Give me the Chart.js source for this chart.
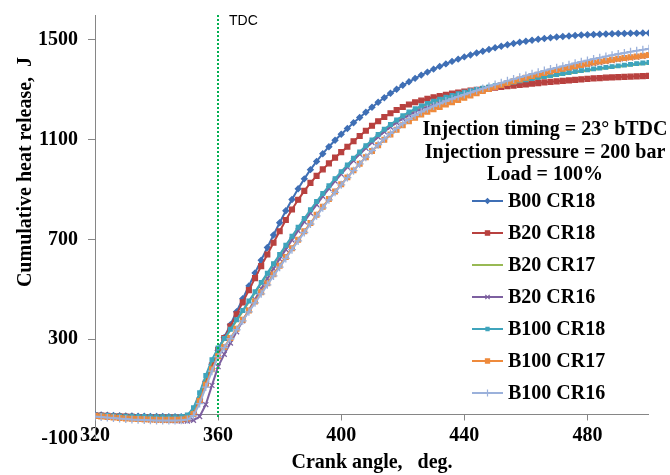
<!DOCTYPE html>
<html>
<head>
<meta charset="utf-8">
<script src="https://cdn.jsdelivr.net/npm/chart.js@4.4.1/dist/chart.umd.min.js"></script>
<style>
    body { margin: 0; background: #fff; }
</style>
</head>
<body>
<canvas id="hrchart" width="670" height="475"></canvas>
<script>
// crank angle, deg (every 2 deg)
const crankAngles = [
    320, 322, 324, 326, 328, 330, 332, 334, 336, 338, 340, 342, 344, 346, 348, 350, 352, 354, 356, 358,
    360, 362, 364, 366, 368, 370, 372, 374, 376, 378, 380, 382, 384, 386, 388, 390, 392, 394, 396, 398,
    400, 402, 404, 406, 408, 410, 412, 414, 416, 418, 420, 422, 424, 426, 428, 430, 432, 434, 436, 438,
    440, 442, 444, 446, 448, 450, 452, 454, 456, 458, 460, 462, 464, 466, 468, 470, 472, 474, 476, 478,
    480, 482, 484, 486, 488, 490, 492, 494, 496, 498, 500
];

// cumulative heat release, J
const b00Cr18 = [
    -3, -4, -5, -6, -7, -8, -8, -9, -9, -10, -10, -10, -11, -11, -11, -10, 8, 60, 130, 200,
    255, 307, 358, 410, 462, 514, 566, 617, 668, 718, 767, 815, 860, 903, 943, 980, 1013, 1044, 1072, 1098,
    1122, 1145, 1168, 1189, 1210, 1230, 1250, 1268, 1286, 1302, 1318, 1332, 1346, 1359, 1371, 1383, 1394, 1404, 1414, 1423,
    1432, 1440, 1448, 1455, 1462, 1469, 1475, 1481, 1486, 1491, 1495, 1499, 1503, 1506, 1509, 1512, 1514, 1516, 1518, 1520,
    1521, 1522, 1523, 1524, 1525, 1526, 1526, 1527, 1527, 1528, 1528
];
const b20Cr18 = [
    -5, -6, -7, -8, -9, -10, -11, -12, -12, -13, -13, -13, -14, -14, -14, -13, 5, 55, 125, 195,
    258, 305, 352, 400, 448, 497, 545, 593, 640, 687, 733, 778, 820, 859, 895, 927, 955, 981, 1005, 1028,
    1050, 1072, 1094, 1115, 1136, 1156, 1174, 1191, 1206, 1219, 1231, 1241, 1250, 1257, 1264, 1270, 1275, 1280, 1285, 1289,
    1293, 1297, 1300, 1303, 1306, 1309, 1312, 1315, 1317, 1320, 1322, 1325, 1327, 1330, 1332, 1334, 1336, 1338, 1340, 1342,
    1344, 1346, 1347, 1349, 1350, 1351, 1352, 1353, 1354, 1355, 1356
];
const b20Cr17 = [
    -6, -7, -8, -9, -10, -11, -11, -12, -12, -13, -13, -13, -13, -13, -12, -7, 20, 78, 148, 212,
    261, 299, 336, 374, 411, 449, 486, 524, 561, 599, 636, 673, 709, 745, 780, 815, 848, 880, 911, 940,
    968, 995, 1022, 1047, 1072, 1095, 1117, 1138, 1157, 1175, 1192, 1207, 1220, 1231, 1241, 1250, 1258, 1266, 1273, 1280,
    1286, 1292, 1297, 1302, 1307, 1312, 1317, 1322, 1327, 1332, 1336, 1341, 1345, 1349, 1353, 1357, 1361, 1365, 1369, 1373,
    1376, 1380, 1383, 1386, 1389, 1392, 1395, 1398, 1401, 1404, 1406
];
const b20Cr16 = [
    -6, -8, -10, -12, -14, -16, -18, -20, -22, -23, -24, -25, -26, -27, -28, -28, -25, -10, 38, 115,
    190, 240, 285, 330, 374, 417, 460, 502, 543, 583, 622, 660, 698, 735, 771, 806, 840, 873, 904, 934,
    962, 990, 1016, 1042, 1066, 1089, 1111, 1132, 1151, 1169, 1185, 1199, 1212, 1223, 1232, 1240, 1248, 1256, 1263, 1270,
    1277, 1284, 1291, 1298, 1304, 1311, 1318, 1325, 1332, 1339, 1345, 1351, 1357, 1363, 1369, 1375, 1380, 1385, 1390, 1395,
    1400, 1405, 1409, 1413, 1417, 1421, 1424, 1428, 1431, 1434, 1437
];
const b100Cr18 = [
    -4, -5, -6, -7, -8, -9, -9, -10, -10, -11, -11, -11, -11, -11, -10, -4, 25, 85, 155, 218,
    265, 303, 340, 378, 415, 453, 490, 528, 565, 603, 640, 677, 713, 749, 784, 819, 852, 884, 915, 944,
    972, 999, 1026, 1051, 1076, 1099, 1121, 1142, 1161, 1179, 1196, 1211, 1224, 1235, 1245, 1254, 1262, 1270, 1277, 1284,
    1290, 1296, 1301, 1306, 1311, 1316, 1321, 1326, 1331, 1336, 1340, 1345, 1349, 1353, 1357, 1361, 1365, 1369, 1373, 1377,
    1380, 1384, 1387, 1390, 1393, 1396, 1399, 1402, 1405, 1408, 1410
];
const b100Cr17 = [
    -8, -10, -12, -14, -16, -18, -19, -20, -21, -22, -23, -23, -23, -23, -22, -18, 0, 52, 118, 180,
    232, 269, 305, 342, 378, 415, 451, 488, 524, 560, 595, 630, 665, 699, 733, 766, 799, 831, 862, 892,
    921, 949, 977, 1004, 1030, 1055, 1078, 1100, 1121, 1140, 1158, 1174, 1188, 1201, 1212, 1222, 1231, 1241, 1250, 1259,
    1268, 1277, 1286, 1295, 1303, 1311, 1319, 1327, 1334, 1341, 1348, 1355, 1361, 1367, 1373, 1379, 1384, 1389, 1394, 1399,
    1404, 1409, 1413, 1417, 1421, 1425, 1428, 1431, 1434, 1437, 1440
];
const b100Cr16 = [
    -10, -12, -14, -16, -18, -20, -22, -23, -24, -25, -26, -26, -26, -26, -25, -22, -6, 42, 108, 172,
    230, 266, 302, 338, 374, 410, 446, 482, 518, 554, 589, 624, 659, 694, 728, 762, 795, 827, 859, 889,
    919, 948, 976, 1003, 1030, 1056, 1080, 1103, 1125, 1146, 1165, 1182, 1198, 1212, 1224, 1235, 1245, 1255, 1264, 1273,
    1281, 1289, 1297, 1305, 1313, 1321, 1328, 1336, 1343, 1350, 1357, 1364, 1370, 1377, 1383, 1389, 1395, 1401, 1407, 1413,
    1418, 1424, 1429, 1434, 1439, 1444, 1448, 1453, 1457, 1461, 1465
];

const seriesNames = ["B00 CR18", "B20 CR18", "B20 CR17", "B20 CR16", "B100 CR18", "B100 CR17", "B100 CR16"];
const seriesValues = [b00Cr18, b20Cr18, b20Cr17, b20Cr16, b100Cr18, b100Cr17, b100Cr16];
const xTicks = [320, 360, 400, 440, 480];
const yTicks = [-100, 300, 700, 1100, 1500];
const tdcAngle = 360;
const legendTitle = ["Injection timing = 23° bTDC", "Injection pressure = 200 bar", "Load = 100%"];

const serif = "'Liberation Serif', 'Times New Roman', serif";
const boldFont = { family: serif, size: 20, weight: "bold" };
const axisGrey = "#868686";

// excel-like look per series
const looks = [
    { color: "#3F6FB5", point: "rectRot", r: 2.8 },
    { color: "#B8413F", point: "rect", r: 3.4 },
    { color: "#98B954", point: false, r: 0 },
    { color: "#7D60A0", point: "crossRot", r: 3.5 },
    { color: "#3FA4BC", point: "rect", r: 2.6 },
    { color: "#EE8A3C", point: "rect", r: 3.3 },
    { color: "#9BB1DB", point: "cross", r: 4 }
];

const datasets = seriesNames.map((name, i) => ({
    label: name,
    data: crankAngles.map((a, k) => ({ x: a, y: seriesValues[i][k] })),
    borderColor: looks[i].color,
    backgroundColor: looks[i].color,
    borderWidth: 2,
    pointStyle: looks[i].point,
    pointRadius: looks[i].r,
    pointBorderWidth: 1.3,
    pointBackgroundColor: looks[i].color,
    pointBorderColor: looks[i].color,
    order: seriesNames.length - i
}));

const excelBits = {
    id: "excelBits",
    beforeDatasetsDraw(chart) {
        const { ctx, chartArea, scales: { x, y } } = chart;
        const y0 = Math.round(y.getPixelForValue(0)) + 0.5;
        ctx.save();
        ctx.strokeStyle = axisGrey;
        ctx.lineWidth = 1;
        ctx.beginPath();
        ctx.moveTo(chartArea.left, y0);
        ctx.lineTo(chartArea.right, y0);
        xTicks.forEach(v => {
            const px = Math.round(x.getPixelForValue(v)) + 0.5;
            ctx.moveTo(px, y0);
            ctx.lineTo(px, y0 + 6);
        });
        ctx.stroke();
        ctx.restore();
    },
    afterDatasetsDraw(chart) {
        const { ctx, chartArea, scales: { x, y } } = chart;
        const tx = Math.round(x.getPixelForValue(tdcAngle));
        ctx.save();
        ctx.strokeStyle = "#00B050";
        ctx.lineWidth = 2;
        ctx.setLineDash([2, 2]);
        ctx.beginPath();
        ctx.moveTo(tx, chartArea.top);
        ctx.lineTo(tx, y.getPixelForValue(-20));
        ctx.stroke();
        ctx.setLineDash([]);
        ctx.fillStyle = "#000";
        ctx.font = "14px 'Liberation Sans', Arial, sans-serif";
        ctx.textBaseline = "middle";
        ctx.textAlign = "left";
        ctx.fillText("TDC", tx + 11, 21);
        ctx.restore();
    },
    afterDraw(chart) {
        const ctx = chart.ctx;
        ctx.save();
        ctx.fillStyle = "#000";
        ctx.font = "bold 20px " + serif;
        ctx.textBaseline = "middle";

        // y axis title
        ctx.save();
        ctx.translate(26, 172);
        ctx.rotate(-Math.PI / 2);
        ctx.textAlign = "center";
        ctx.fillText("Cumulative heat release,  J", 0, 0);
        ctx.restore();

        // legend block
        ctx.textAlign = "center";
        legendTitle.forEach((t, i) => ctx.fillText(t, 545, 130 + i * 22.5));
        ctx.textAlign = "left";
        chart.data.datasets.forEach((ds, i) => {
            const ly = 201 + i * 32;
            ctx.strokeStyle = ds.borderColor;
            ctx.fillStyle = ds.borderColor;
            ctx.lineWidth = 2;
            ctx.beginPath();
            ctx.moveTo(472, ly);
            ctx.lineTo(503, ly);
            ctx.stroke();
            if (ds.pointStyle) {
                ctx.lineWidth = 1.2;
                Chart.helpers.drawPoint(ctx, { pointStyle: ds.pointStyle, radius: ds.pointRadius - 0.4, borderWidth: 1.2, rotation: 0 }, 487.5, ly);
            }
            ctx.fillStyle = "#000";
            ctx.fillText(ds.label, 508, ly + 1);
        });
        ctx.restore();
    }
};

const hr = document.getElementById("hrchart");

new Chart(hr, {
    type: "line",
    data: { datasets: datasets },
    options: {
        responsive: false,
        animation: false,
        layout: { padding: { top: 15, right: 21, left: 0, bottom: 0 } },
        plugins: {
            legend: { display: false },
            tooltip: { enabled: false }
        },
        scales: {
            x: {
                type: "linear",
                min: 320,
                max: 500,
                afterBuildTicks: s => { s.ticks = xTicks.map(v => ({ value: v })); },
                afterFit: s => { s.height = 36; s.paddingLeft = 0; s.paddingRight = 0; },
                grid: { display: false, drawTicks: false },
                border: { display: false },
                ticks: { font: boldFont, color: "#000", mirror: true, padding: -9, maxRotation: 0, callback: v => String(v) },
                title: {
                    display: true,
                    text: "Crank angle,   deg.",
                    font: boldFont,
                    color: "#000",
                    padding: { top: 0, bottom: 0 }
                }
            },
            y: {
                min: -100,
                max: 1600,
                afterBuildTicks: s => { s.ticks = yTicks.map(v => ({ value: v })); },
                afterFit: s => { s.width = 95; s.paddingTop = 0; s.paddingBottom = 0; },
                grid: { drawOnChartArea: false, drawTicks: true, tickLength: 7, color: axisGrey },
                border: { display: true, color: axisGrey },
                ticks: { font: boldFont, color: "#000", padding: 10, callback: v => String(v) }
            }
        }
    },
    plugins: [excelBits]
});
</script>
</body>
</html>
